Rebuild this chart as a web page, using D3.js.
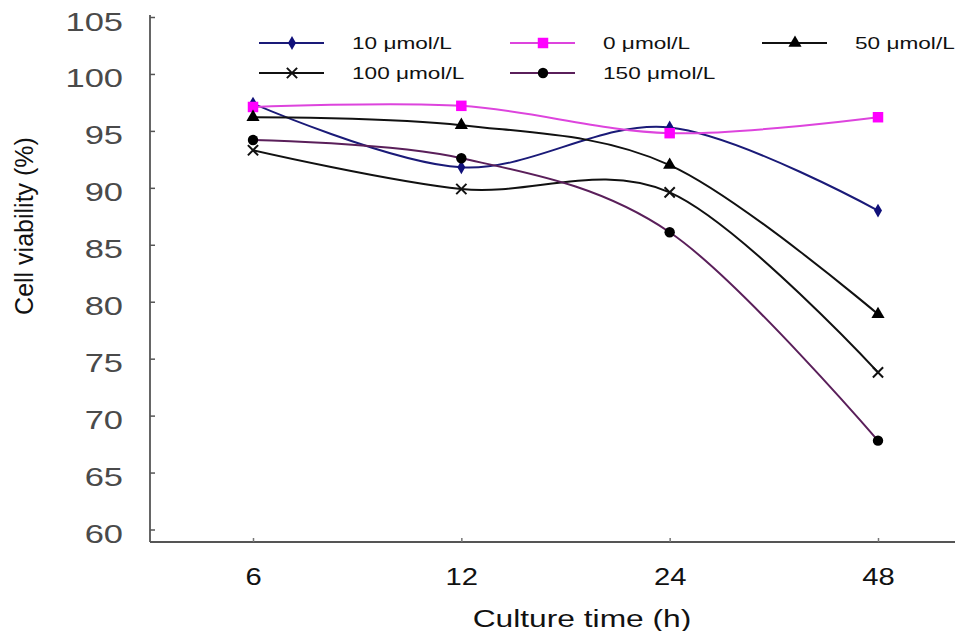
<!DOCTYPE html>
<html>
<head>
<meta charset="utf-8">
<script src="https://cdn.jsdelivr.net/npm/d3@7"></script>
<style>
  body { margin: 0; background: #fff; }
  text { font-family: Arial, "Liberation Sans", sans-serif; }
</style>
</head>
<body>
<div id="chart"></div>
<script>
// Chart data
const times = ['6', '12', '24', '48'];
const seriesNames = ['10 μmol/L', '0 μmol/L', '50 μmol/L', '100 μmol/L', '150 μmol/L'];
const v10 = [97.4, 91.8, 95.3, 88.0];
const v0 = [97.1, 97.2, 94.8, 96.2];
const v50 = [96.2, 95.5, 92.0, 78.9];
const v100 = [93.3, 89.9, 89.6, 73.8];
const v150 = [94.2, 92.6, 86.1, 67.8];
const yTicks = [60, 65, 70, 75, 80, 85, 90, 95, 100, 105];

const width = 957, height = 631;

// Look of each series (same order as seriesNames)
const styles = [
  { line: '#1a1a78', fill: '#10107a', symbol: d3.symbolDiamond, size: 55 },
  { line: '#dd44dd', fill: '#ff00ff', symbol: d3.symbolSquare, size: 110 },
  { line: '#111111', fill: '#000000', symbol: d3.symbolTriangle, size: 75 },
  { line: '#111111', fill: 'none', symbol: d3.symbolTimes || d3.symbolX, size: 70, stroke: true },
  { line: '#5a1f5a', fill: '#000000', symbol: d3.symbolCircle, size: 85 }
];
const values = [v10, v0, v50, v100, v150];
const series = seriesNames.map((name, i) => ({ name, values: values[i], ...styles[i] }));

const svg = d3.select('#chart')
  .append('svg')
  .attr('width', width)
  .attr('height', height);

// Scales
const axisLeftX = 150, axisRightX = 955, axisBottomY = 542;
const x = d3.scalePoint()
  .domain(times)
  .range([253, 878]);
const y = d3.scaleLinear()
  .domain([60, 105])
  .range([529.5, 17]);

// Y axis (ticks point inward)
const yAxis = svg.append('g')
  .attr('transform', `translate(${axisLeftX},0)`)
  .call(d3.axisLeft(y).tickValues(yTicks).tickSizeInner(-5).tickSizeOuter(0));
yAxis.select('.domain').remove();
yAxis.selectAll('.tick line').attr('stroke', '#555').attr('stroke-width', 1.5);
yAxis.selectAll('.tick text')
  .attr('x', 0)
  .attr('dy', '0.52em')
  .attr('text-anchor', 'end')
  .attr('transform', 'translate(-27,0) scale(1.38,1)')
  .style('font-size', '25px')
  .attr('fill', '#4a4a4a');

// Axis lines
svg.append('line')
  .attr('x1', axisLeftX).attr('x2', axisLeftX)
  .attr('y1', 15).attr('y2', axisBottomY)
  .attr('stroke', '#555').attr('stroke-width', 1.8);
svg.append('line')
  .attr('x1', axisLeftX).attr('x2', axisRightX)
  .attr('y1', axisBottomY).attr('y2', axisBottomY)
  .attr('stroke', '#555').attr('stroke-width', 1.8);

// X axis ticks and labels
const xAxis = svg.append('g')
  .attr('transform', `translate(0,${axisBottomY})`)
  .call(d3.axisBottom(x).tickSizeInner(-4).tickSizeOuter(0));
xAxis.select('.domain').remove();
xAxis.selectAll('.tick line').attr('stroke', '#777').attr('stroke-width', 1.5);
xAxis.selectAll('.tick text')
  .attr('y', 0)
  .attr('dy', 0)
  .attr('text-anchor', 'middle')
  .attr('transform', 'translate(0,43) scale(1.27,1)')
  .style('font-size', '23px')
  .attr('fill', '#111');

// Axis titles
svg.append('text')
  .attr('transform', 'translate(582,627) scale(1.38,1)')
  .attr('text-anchor', 'middle')
  .style('font-size', '23px')
  .attr('fill', '#111')
  .text('Culture time (h)');

svg.append('text')
  .attr('transform', 'translate(33,226) rotate(-90)')
  .attr('text-anchor', 'middle')
  .style('font-size', '25px')
  .attr('fill', '#111')
  .text('Cell viability (%)');

// Smoothed lines
const line = d3.line()
  .x((d, i) => x(times[i]))
  .y(d => y(d))
  .curve(d3.curveCardinal.tension(0));

series.forEach(s => {
  svg.append('path')
    .datum(s.values)
    .attr('fill', 'none')
    .attr('stroke', s.line)
    .attr('stroke-width', 2)
    .attr('d', line);
});

// Markers
function drawMarker(g, s, cx, cy) {
  g.append('path')
    .attr('transform', `translate(${cx},${cy})`)
    .attr('d', d3.symbol().type(s.symbol).size(s.size)())
    .attr('fill', s.stroke ? 'none' : s.fill)
    .attr('stroke', s.stroke ? '#111' : 'none')
    .attr('stroke-width', s.stroke ? 2 : 0);
}

series.forEach(s => {
  const g = svg.append('g');
  s.values.forEach((v, i) => drawMarker(g, s, x(times[i]), y(v)));
});

// Legend: three columns, two rows
const legendCols = [259, 510, 762];
const legendRows = [43, 73];
const legend = svg.append('g');
series.forEach((s, i) => {
  const lx = legendCols[i % 3];
  const ly = legendRows[Math.floor(i / 3)];
  const item = legend.append('g');
  item.append('line')
    .attr('x1', lx).attr('x2', lx + 65)
    .attr('y1', ly).attr('y2', ly)
    .attr('stroke', s.line)
    .attr('stroke-width', 2);
  drawMarker(item, s, lx + 33, ly);
  item.append('text')
    .attr('transform', `translate(${lx + 93},${ly}) scale(1.33,1)`)
    .attr('dy', '0.35em')
    .style('font-size', '17px')
    .attr('fill', '#111')
    .text(s.name);
});
</script>
</body>
</html>
